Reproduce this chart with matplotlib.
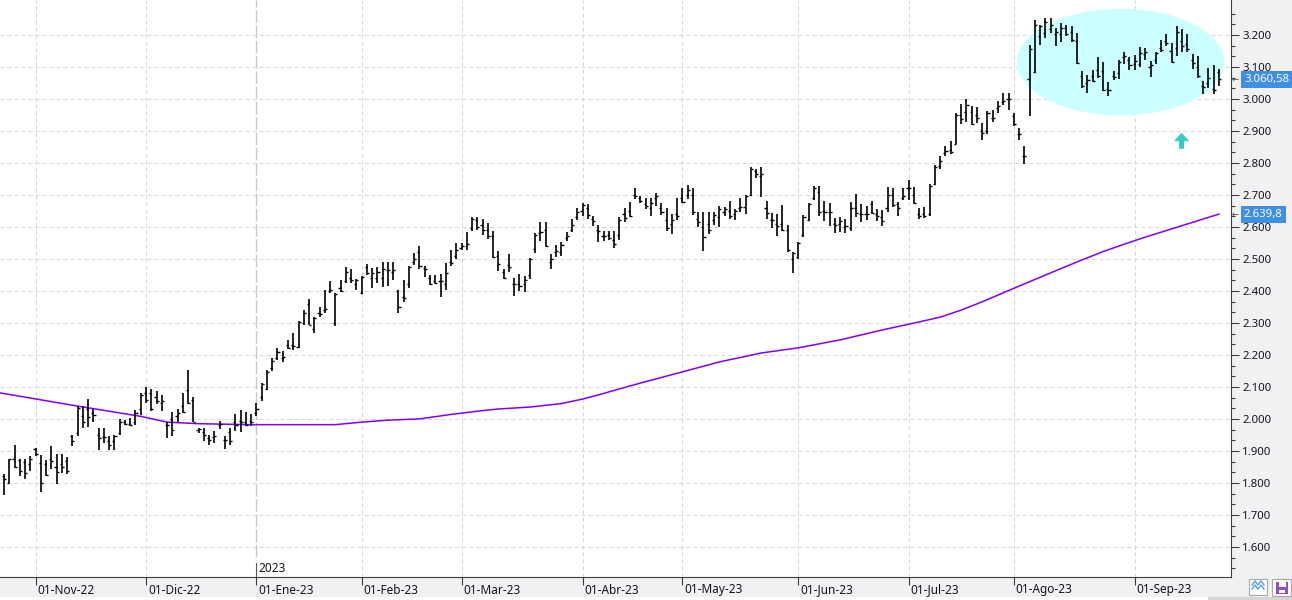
import numpy as np
import pandas as pd
import matplotlib
matplotlib.use("Agg")
import matplotlib.pyplot as plt
from matplotlib.patches import Ellipse, Rectangle
from matplotlib.lines import Line2D
from matplotlib.transforms import IdentityTransform
from matplotlib.ticker import FixedLocator, FuncFormatter

plt.rcParams["font.family"] = ["Noto Sans", "DejaVu Sans"]

# trading calendar (US holidays are missing from the bars)
holidays = ["2022-11-24", "2022-12-26", "2023-01-02", "2023-01-16", "2023-02-20",
            "2023-04-07", "2023-05-29", "2023-06-19", "2023-07-04", "2023-09-04"]
month_names = ["Nov", "Dic", "Ene", "Feb", "Mar", "Abr", "May", "Jun", "Jul", "Ago", "Sep"]

# daily OHLC bars
bar_open = [
    1821, 1800, 1876, 1873, 1866, 1860, 1905, 1862, 1860, 1876,
    1850, 1860, 1868, 1948, 1955, 2010, 2030, 2020, 1950, 1945,
    1930, 1930, 1955, 1990, 1985, 1990, 2030, 2080, 2080, 2070,
    2050, 1980, 2000, 2010, 2040, 2090, 2060, 1965, 1960, 1940,
    1945, 1980, 1935, 1960, 1990, 1995, 1990, 1995, 2020, 2069,
    2092, 2160, 2190, 2190, 2231, 2230, 2225, 2300, 2360, 2280,
    2330, 2340, 2400, 2300, 2410, 2430, 2440, 2420, 2395, 2475,
    2440, 2440, 2440, 2465, 2460, 2400, 2380, 2420, 2490, 2520,
    2470, 2440, 2430, 2430, 2420, 2490, 2510, 2535, 2540, 2595,
    2620, 2605, 2590, 2570, 2510, 2460, 2480, 2420, 2420, 2420,
    2450, 2530, 2580, 2590, 2490, 2520, 2520, 2565, 2590, 2630,
    2650, 2660, 2625, 2590, 2570, 2575, 2560, 2575, 2640, 2650,
    2700, 2690, 2670, 2660, 2690, 2660, 2620, 2610, 2640, 2690,
    2700, 2700, 2625, 2600, 2610, 2620, 2630, 2645, 2650, 2640,
    2660, 2662, 2700, 2775, 2760, 2660, 2620, 2610, 2610, 2590,
    2500, 2505, 2576, 2622, 2690, 2710, 2650, 2646, 2610, 2610,
    2600, 2597, 2660, 2640, 2640, 2670, 2640, 2630, 2660, 2701,
    2670, 2690, 2720, 2700, 2640, 2640, 2640, 2735, 2790, 2830,
    2840, 2860, 2950, 2960, 2960, 2950, 2900, 2900, 2940, 2970,
    2990, 3000, 2948, 2890, 2820, 3062, 3083, 3195, 3207, 3218,
    3203, 3203, 3220, 3210, 3180, 3070, 3050, 3070, 3090, 3088,
    3030, 3070, 3080, 3130, 3120, 3110, 3110, 3140, 3100, 3120,
    3160, 3180, 3150, 3160, 3180, 3170, 3120, 3100, 3040, 3050,
    3030, 3083]
bar_high = [
    1828, 1876, 1920, 1875, 1876, 1883, 1909, 1886, 1873, 1915,
    1889, 1891, 1881, 1951, 2040, 2040, 2062, 2031, 1972, 1972,
    1946, 1951, 2000, 1998, 2003, 2029, 2081, 2100, 2094, 2086,
    2076, 1990, 2021, 2031, 2081, 2154, 2069, 1972, 1972, 1951,
    1962, 1993, 1946, 1972, 2014, 2029, 2021, 2014, 2050, 2112,
    2154, 2191, 2222, 2211, 2248, 2269, 2305, 2340, 2375, 2319,
    2350, 2402, 2431, 2394, 2433, 2475, 2467, 2437, 2446, 2485,
    2472, 2475, 2490, 2490, 2490, 2404, 2433, 2479, 2519, 2540,
    2477, 2451, 2451, 2454, 2487, 2527, 2550, 2550, 2583, 2632,
    2630, 2625, 2612, 2588, 2526, 2467, 2514, 2441, 2452, 2446,
    2503, 2581, 2614, 2614, 2514, 2542, 2552, 2583, 2625, 2659,
    2676, 2672, 2633, 2607, 2586, 2588, 2586, 2631, 2659, 2679,
    2721, 2697, 2690, 2690, 2705, 2674, 2659, 2641, 2690, 2721,
    2731, 2721, 2645, 2648, 2648, 2648, 2666, 2662, 2681, 2655,
    2690, 2700, 2787, 2781, 2787, 2680, 2644, 2639, 2667, 2607,
    2521, 2552, 2636, 2675, 2729, 2727, 2680, 2675, 2628, 2631,
    2625, 2677, 2704, 2673, 2665, 2680, 2656, 2654, 2725, 2722,
    2677, 2722, 2748, 2725, 2659, 2662, 2735, 2792, 2823, 2854,
    2868, 2956, 2985, 3000, 2977, 2975, 2925, 2961, 2965, 2993,
    3017, 3017, 2955, 2910, 2853, 3169, 3247, 3231, 3252, 3252,
    3221, 3236, 3231, 3228, 3207, 3086, 3076, 3089, 3131, 3114,
    3052, 3086, 3120, 3148, 3131, 3138, 3162, 3159, 3117, 3148,
    3184, 3203, 3174, 3228, 3218, 3203, 3141, 3135, 3055, 3096,
    3107, 3093]
bar_low = [
    1761, 1800, 1847, 1821, 1811, 1836, 1885, 1771, 1821, 1842,
    1797, 1831, 1829, 1915, 1948, 1972, 1975, 1990, 1902, 1925,
    1902, 1902, 1951, 1980, 1977, 1982, 2012, 2050, 2024, 2047,
    2024, 1940, 1948, 1990, 2019, 2048, 1990, 1955, 1930, 1920,
    1925, 1967, 1906, 1920, 1961, 1958, 1977, 1977, 2008, 2055,
    2090, 2149, 2183, 2177, 2217, 2215, 2222, 2295, 2292, 2269,
    2319, 2331, 2394, 2290, 2396, 2425, 2425, 2402, 2389, 2451,
    2409, 2425, 2412, 2415, 2433, 2331, 2365, 2409, 2482, 2469,
    2444, 2417, 2420, 2381, 2404, 2477, 2500, 2527, 2529, 2588,
    2590, 2575, 2562, 2504, 2462, 2436, 2459, 2385, 2400, 2397,
    2436, 2519, 2555, 2538, 2467, 2507, 2509, 2555, 2583, 2620,
    2635, 2625, 2604, 2552, 2555, 2560, 2534, 2560, 2614, 2631,
    2686, 2674, 2655, 2633, 2666, 2638, 2586, 2579, 2620, 2676,
    2686, 2638, 2600, 2524, 2579, 2607, 2600, 2633, 2624, 2622,
    2645, 2640, 2696, 2753, 2694, 2625, 2597, 2571, 2586, 2521,
    2456, 2500, 2569, 2618, 2685, 2635, 2618, 2604, 2581, 2583,
    2581, 2586, 2631, 2615, 2621, 2639, 2618, 2604, 2646, 2662,
    2633, 2685, 2683, 2670, 2625, 2628, 2635, 2732, 2781, 2823,
    2829, 2860, 2923, 2927, 2917, 2925, 2873, 2889, 2927, 2956,
    2982, 2965, 2915, 2872, 2796, 2948, 3081, 3169, 3190, 3207,
    3166, 3179, 3197, 3179, 3110, 3034, 3019, 3052, 3065, 3024,
    3008, 3060, 3062, 3110, 3089, 3091, 3100, 3120, 3068, 3110,
    3145, 3166, 3112, 3133, 3145, 3145, 3093, 3065, 3014, 3034,
    3014, 3039]
bar_close = [
    1812, 1876, 1850, 1836, 1830, 1876, 1890, 1800, 1825, 1870,
    1833, 1850, 1836, 1930, 2035, 1990, 2006, 2013, 1940, 1943,
    1920, 1948, 1990, 1985, 1980, 2020, 2075, 2060, 2030, 2055,
    2055, 1980, 1965, 2020, 2021, 2050, 1990, 1967, 1950, 1935,
    1948, 1985, 1933, 1930, 1982, 1990, 1982, 1990, 2030, 2110,
    2146, 2180, 2208, 2194, 2222, 2227, 2302, 2331, 2295, 2315,
    2329, 2342, 2402, 2390, 2400, 2460, 2435, 2435, 2444, 2456,
    2455, 2458, 2467, 2464, 2465, 2350, 2378, 2475, 2500, 2477,
    2467, 2420, 2425, 2430, 2456, 2487, 2527, 2540, 2548, 2625,
    2600, 2590, 2570, 2507, 2483, 2441, 2475, 2420, 2415, 2434,
    2500, 2576, 2583, 2540, 2500, 2524, 2542, 2571, 2607, 2648,
    2669, 2638, 2617, 2586, 2571, 2565, 2548, 2620, 2628, 2633,
    2697, 2682, 2664, 2676, 2695, 2645, 2597, 2622, 2633, 2679,
    2716, 2645, 2614, 2569, 2589, 2638, 2655, 2655, 2633, 2651,
    2662, 2695, 2781, 2764, 2766, 2642, 2623, 2602, 2590, 2527,
    2517, 2550, 2630, 2670, 2720, 2646, 2646, 2646, 2607, 2618,
    2602, 2660, 2644, 2639, 2639, 2644, 2635, 2618, 2701, 2667,
    2659, 2695, 2722, 2675, 2633, 2633, 2729, 2787, 2805, 2836,
    2833, 2950, 2937, 2982, 2920, 2941, 2894, 2956, 2941, 2977,
    2993, 3000, 2920, 2889, 2822, 3155, 3230, 3228, 3240, 3230,
    3210, 3220, 3203, 3184, 3112, 3039, 3058, 3055, 3071, 3029,
    3029, 3068, 3114, 3133, 3107, 3117, 3143, 3145, 3107, 3143,
    3153, 3174, 3114, 3210, 3166, 3155, 3112, 3071, 3037, 3065,
    3029, 3061]

# moving average, sampled along the purple curve (bar index, value)
ma_index = [-1, 14, 26, 31, 37, 47, 63, 68, 73, 79, 85, 91, 94, 100, 106, 110, 113,
            121, 129, 136, 144, 151, 159, 167, 174, 178, 182, 186, 193, 201, 205,
            209, 213, 217, 224, 231]
ma_value = [2082, 2040, 2008, 1990, 1985, 1982, 1982, 1990, 1996, 2000, 2014, 2026,
            2031, 2037, 2048, 2062, 2075, 2112, 2147, 2178, 2206, 2222, 2247, 2278,
            2303, 2318, 2340, 2366, 2415, 2470, 2497, 2523, 2546, 2568, 2604, 2640]

last_price, last_price_label = 3060.58, "3.060,58"
ma_last, ma_last_label = 2639.8, "2.639,8"
y_major = list(range(1600, 3201, 100))

dates = pd.bdate_range("2022-10-24", "2023-09-26", freq="C", holidays=holidays)
assert len(dates) == len(bar_close)
x = np.arange(len(dates))
month_start = [i for i in range(1, len(dates)) if dates[i].month != dates[i - 1].month]
month_labels = ["01-%s-%s" % (m, dates[i].strftime("%y")) for m, i in zip(month_names, month_start)]
jan = month_start[month_names.index("Ene")]

W, H = 1292, 600
txt_color = "#14141c"
fig = plt.figure(figsize=(W / 100, H / 100), dpi=100, facecolor="#f1f1f3")
ax = fig.add_axes([0, 23 / H, 1231 / W, 577 / H])
ax.set_facecolor("white")
ax.set_xlim(-0.76, 233.3)
ax.set_ylim(1506, 3309)

for s in ["top", "left"]:
    ax.spines[s].set_visible(False)
for s in ["bottom", "right"]:
    ax.spines[s].set_color("#3c3c3c")
    ax.spines[s].set_linewidth(0.8)

# grid
for v in y_major:
    ax.axhline(v, color="#d6d6d6", lw=0.72, dashes=(4, 3), zorder=0)
for i in month_start:
    if i == jan:
        ax.axvline(i, ymin=20 / 577, ymax=1, color="#c8c8c8", lw=1.0, dashes=(9, 2), zorder=0)
        ax.axvline(i, ymin=0, ymax=14 / 577, color="#555555", lw=0.8, zorder=0)
    else:
        ax.axvline(i, color="#d6d6d6", lw=0.72, dashes=(4, 3), zorder=0)

# highlighted zone and arrow
ax.add_patch(Ellipse((212.3, 3115), 39.4, 334, fc="#ccffff", ec="none", zorder=1))
ax.arrow(223.9, 2844, 0, 50, width=0.95, head_width=2.9, head_length=26,
         length_includes_head=True, fc="#33cccc", ec="none", zorder=2)

# moving average
ax.plot(ma_index, ma_value, color="#8000ff", lw=1.1, zorder=2)

# OHLC bars
ax.vlines(x, bar_low, bar_high, color="black", lw=1.2, zorder=3)
ax.hlines(bar_open, x - 0.4, x, color="black", lw=1.0, zorder=3)
ax.hlines(bar_close, x, x + 0.4, color="black", lw=1.0, zorder=3)

# y axis on the right
ax.yaxis.tick_right()
ax.yaxis.set_major_locator(FixedLocator(y_major))
minor = [1500 + k * 100 / 3 for k in range(55) if k % 3 != 0]
ax.yaxis.set_minor_locator(FixedLocator(minor))
ax.yaxis.set_major_formatter(FuncFormatter(lambda v, p: f"{v:,.0f}".replace(",", ".")))
ax.tick_params(axis="y", which="major", length=5.8, width=0.8, color="#3c3c3c",
               pad=2.2, labelsize=8.2, labelcolor=txt_color)
ax.tick_params(axis="y", which="minor", length=2.9, width=0.8, color="#3c3c3c")

# x axis: month ticks with labels to the right of the tick
ax.set_xticks(month_start)
ax.set_xticklabels([])
ax.tick_params(axis="x", length=5.8, width=0.8, color="#3c3c3c")
for i, lab in zip(month_start, month_labels):
    ax.annotate(lab, xy=(i, 0), xycoords=("data", "axes fraction"), xytext=(2, -13),
                textcoords="offset pixels", ha="left", va="center", fontsize=8.5,
                color=txt_color, annotation_clip=False)
ax.annotate("2023", xy=(jan, 0), xycoords=("data", "axes fraction"), xytext=(2, 9),
            textcoords="offset pixels", ha="left", va="center", fontsize=8.5, color=txt_color)

# price boxes on the axis
for val, txt in [(last_price, last_price_label), (ma_last, ma_last_label)]:
    ax.annotate(txt, xy=(1, val), xycoords=("axes fraction", "data"), xytext=(13, 0),
                textcoords="offset pixels", ha="left", va="center", color="white", fontsize=8.2,
                bbox=dict(boxstyle="square,pad=0.25", fc="#3f8fe4", ec="none"),
                annotation_clip=False, zorder=5)
    ax.annotate("\u2190", xy=(1, val), xycoords=("axes fraction", "data"), xytext=(1, 0),
                textcoords="offset pixels", ha="left", va="center", fontsize=6,
                color="#444444", family="DejaVu Sans", annotation_clip=False, zorder=5)

# bottom strip and small buttons
px = IdentityTransform()
fig.add_artist(Rectangle((0, 0), W, 3, fc="white", ec="none", transform=px))
fig.add_artist(Rectangle((1208, 0), 84, 3, fc="#d6d6d6", ec="none", transform=px))
fig.add_artist(Rectangle((1249, 5), 18, 16, fc="white", ec="#a8a8a8", lw=0.8, transform=px))
for dy in (0, -4):
    fig.add_artist(Line2D([1252, 1255, 1258, 1261, 1264], [15 + dy, 19 + dy, 15 + dy, 19 + dy, 15 + dy],
                          color="#5b9bd5", lw=1.0, transform=px))
fig.add_artist(Rectangle((1272, 4), 19, 17, fc="white", ec="#a8a8a8", lw=0.8, transform=px))
fig.add_artist(Rectangle((1276, 6), 12, 12, fc="#8e50c8", ec="none", transform=px))
fig.add_artist(Rectangle((1278.5, 13), 7, 5, fc="white", ec="none", transform=px))
fig.add_artist(Rectangle((1279, 7), 6, 3, fc="white", ec="none", transform=px))

fig.savefig("out.png", dpi=100, facecolor=fig.get_facecolor())
